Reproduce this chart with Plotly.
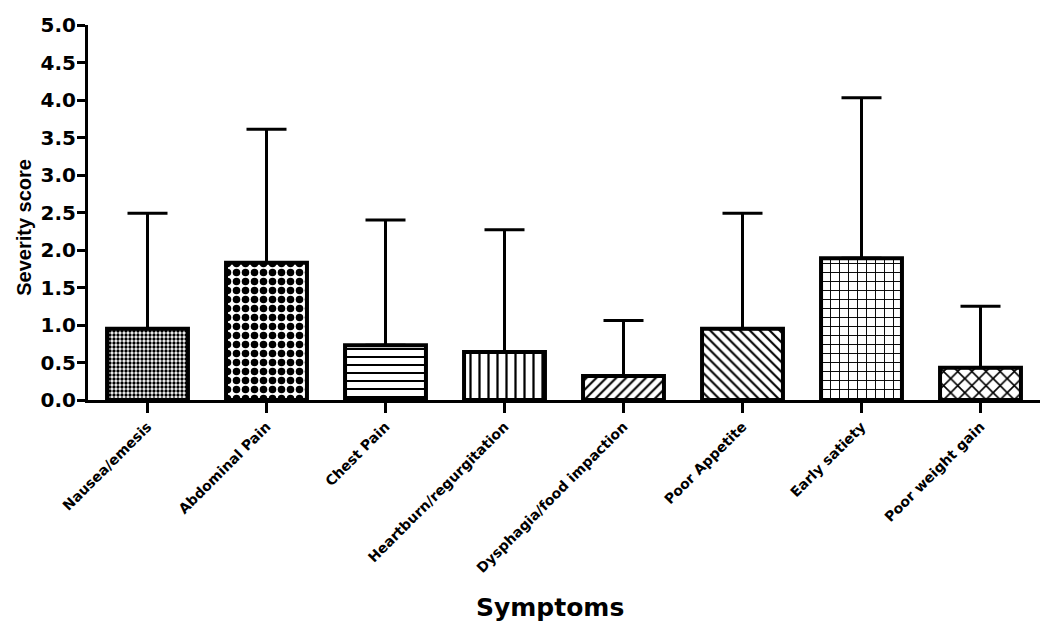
import plotly.graph_objects as go

categories = ["Nausea/emesis", "Abdominal Pain", "Chest Pain", "Heartburn/regurgitation",
              "Dysphagia/food impaction", "Poor Appetite", "Early satiety", "Poor weight gain"]
means = [0.95, 1.83, 0.73, 0.64, 0.32, 0.95, 1.89, 0.43]
upper_err = [1.54, 1.78, 1.67, 1.63, 0.74, 1.54, 2.14, 0.82]
y_ticks = [0.0, 0.5, 1.0, 1.5, 2.0, 2.5, 3.0, 3.5, 4.0, 4.5, 5.0]

pattern_shapes = [".", ".", "-", "|", "/", "\\", "+", "x"]
pattern_sizes = [4, 9, 8, 9, 7, 7, 9, 10]
pattern_solidity = [0.55, 0.55, 0.25, 0.25, 0.3, 0.3, 0.2, 0.3]

ARIAL = "Arial, 'Liberation Sans', sans-serif"
WIDE = "'DejaVu Sans', Arial, sans-serif"

fig = go.Figure()
fig.add_trace(go.Bar(
    x=categories,
    y=means,
    width=0.68,
    marker=dict(
        color="white",
        line=dict(color="black", width=4),
        pattern=dict(shape=pattern_shapes, size=pattern_sizes, solidity=pattern_solidity,
                     fgcolor="black", bgcolor="white", fillmode="replace"),
    ),
    error_y=dict(type="data", symmetric=False, array=upper_err,
                 arrayminus=[0] * len(means), color="black", thickness=3, width=20),
    showlegend=False,
))

fig.update_layout(
    width=1042, height=625,
    margin=dict(l=80, r=10, t=17, b=233),
    plot_bgcolor="white", paper_bgcolor="white",
    font=dict(family=ARIAL, color="black"),
    annotations=[
        dict(text="<b>Symptoms</b>", xref="paper", yref="paper", x=0.485, y=-0.552,
             xanchor="center", yanchor="middle", showarrow=False,
             font=dict(family=WIDE, size=25, color="black")),
        dict(text="<b>Severity score</b>", xref="paper", yref="paper", x=-0.068, y=0.46,
             xanchor="center", yanchor="middle", textangle=-90, showarrow=False,
             font=dict(family=ARIAL, size=20, color="black")),
    ],
)
fig.update_xaxes(
    range=[-0.5, 7.5], automargin=False,
    showline=True, linecolor="black", linewidth=3,
    ticks="outside", ticklen=10, tickwidth=3, tickcolor="black",
    tickangle=-45,
    tickfont=dict(family=WIDE, size=14, color="black", weight="bold"),
    showgrid=False, zeroline=False,
)
fig.update_yaxes(
    range=[0, 5], automargin=False,
    tickvals=y_ticks,
    ticktext=[f"{v:.1f}" for v in y_ticks],
    showline=True, linecolor="black", linewidth=3,
    ticks="outside", ticklen=8, tickwidth=3, tickcolor="black",
    ticklabelstandoff=-3,
    tickfont=dict(family=WIDE, size=20, color="black", weight="bold"),
    showgrid=False, zeroline=False,
)

fig.write_html("out.html")
